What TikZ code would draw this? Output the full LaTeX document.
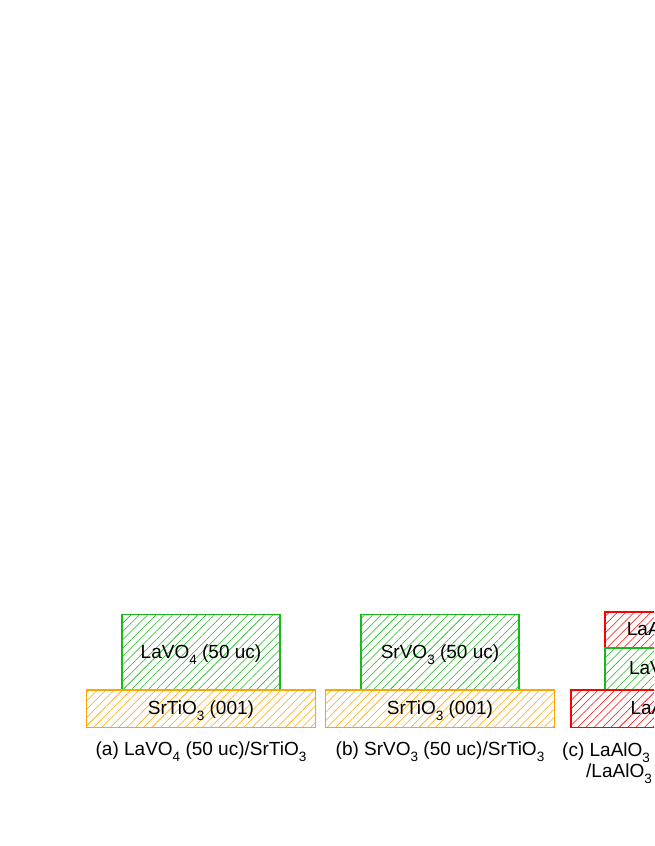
\documentclass[tikz,border=0pt]{standalone}
\usepackage{fontspec}
\setmainfont{Liberation Sans}
\usetikzlibrary{positioning,patterns.meta}
\definecolor{filmgreen}{RGB}{25,185,25}
\definecolor{subsorange}{RGB}{255,165,0}
\definecolor{capred}{RGB}{255,0,0}
\newcommand{\lsub}[1]{\raisebox{-0.3em}{\fontsize{13.5}{14}\selectfont #1}}
\tikzstyle{layer} = [rectangle, inner sep=0pt, outer sep=0pt, line width=1.6pt, text centered, text height=13.7pt, text depth=1.6pt, font=\fontsize{19}{23}\selectfont]
\tikzstyle{film} = [layer, minimum width=158pt, minimum height=75.3pt, draw=filmgreen, pattern={Lines[angle=45,distance=5.9pt,line width=0.55pt]}, pattern color=filmgreen]
\tikzstyle{substrate} = [layer, minimum width=229pt, minimum height=37.5pt, draw=subsorange, pattern={Lines[angle=45,distance=5.9pt,line width=0.55pt]}, pattern color=subsorange]
\tikzstyle{caplayer} = [layer, minimum width=158pt, minimum height=36pt, draw=capred, pattern={Lines[angle=45,distance=5.9pt,line width=0.55pt]}, pattern color=capred]
\tikzstyle{caption} = [inner sep=0pt, font=\fontsize{19}{23}\selectfont]

\begin{document}
\begin{tikzpicture}[x=1pt,y=-1pt,node distance=0pt]
\useasboundingbox (0,0) rectangle (654,846);
\clip (0,0) rectangle (654,846);
% (a)
\node (filmA) [film] at (201,652.3) {LaVO\lsub{4} (50 uc)};
\node (subA) [substrate, below=of filmA] {SrTiO\lsub{3} (001)};
\node (capA) [caption, below=14pt of subA] {(a) LaVO\lsub{4} (50 uc)/SrTiO\lsub{3}};
% (b)
\node (filmB) [film] at (440,652.3) {SrVO\lsub{3} (50 uc)};
\node (subB) [substrate, below=of filmB] {SrTiO\lsub{3} (001)};
\node (capB) [caption, below=14pt of subB] {(b) SrVO\lsub{3} (50 uc)/SrTiO\lsub{3}};
% (c)
\node (capC) [caplayer] at (684,629.7) {LaAlO\lsub{3} (5 uc)};
\node (filmC) [film, minimum height=42.3pt, below=of capC] {LaVO\lsub{3} (5 uc)};
\node (subC) [substrate, draw=capred, pattern color=capred, below=of filmC, xshift=1.5pt] {LaAlO\lsub{3} (001)};
\node (capCa) [caption, anchor=base west] at (562,756.7) {(c) LaAlO\lsub{3}};
\node (capCb) [caption, anchor=base west] at (586,777.7) {/LaAlO\lsub{3}};

\end{tikzpicture}
\end{document}
